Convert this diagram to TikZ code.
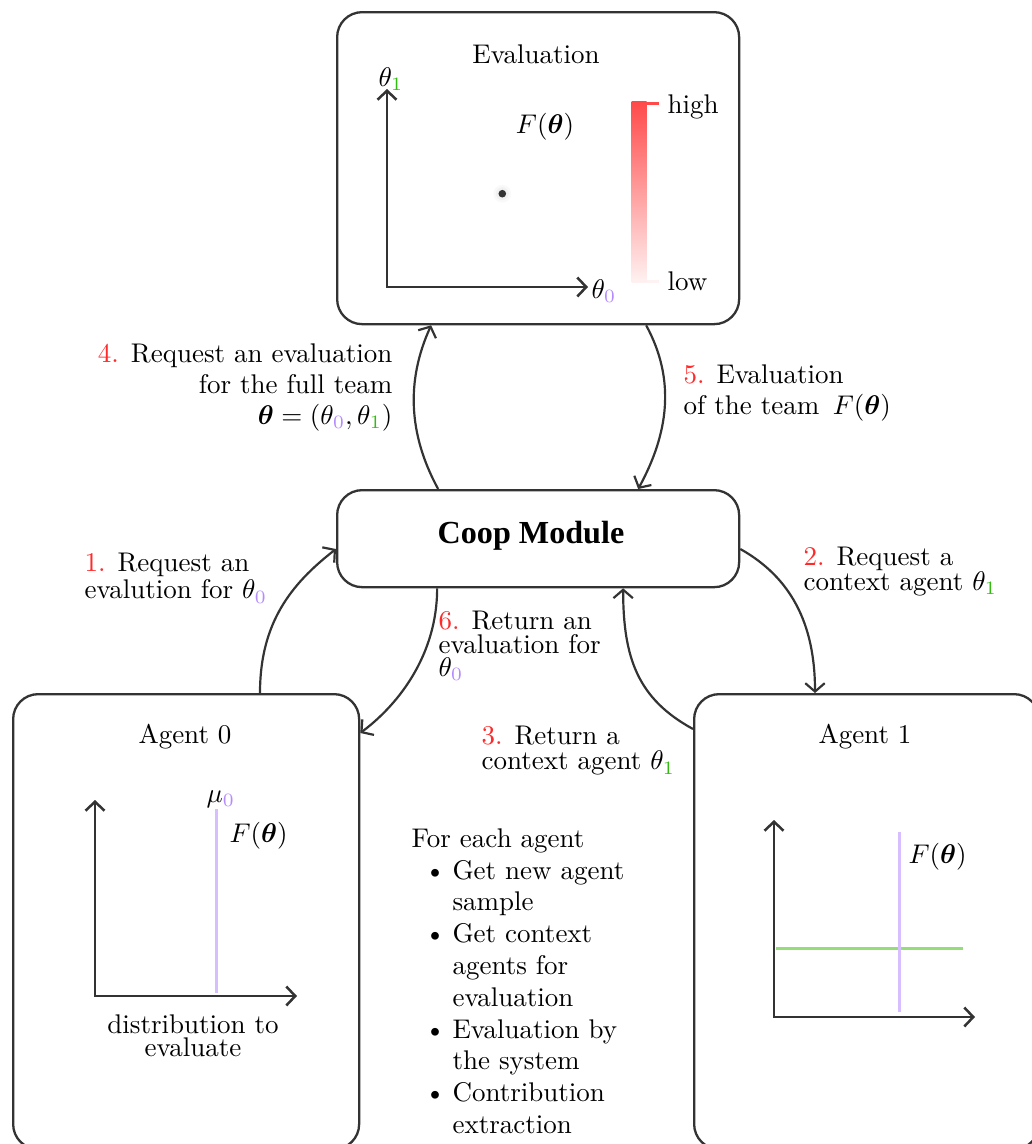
\documentclass[tikz,border=0pt]{standalone}
\usepackage{amsmath}
\usepackage{fontspec}
\newfontfamily\coopfont{Liberation Serif}
\usetikzlibrary{arrows.meta,calc}
\definecolor{lc}{HTML}{333333}
\definecolor{numred}{HTML}{FF2A2A}
\definecolor{subpurple}{HTML}{B48CFF}
\definecolor{subgreen}{HTML}{33BB11}
\definecolor{linepurple}{HTML}{D6BEFF}
\definecolor{linegreen}{HTML}{95DD7A}
\definecolor{barred}{HTML}{FF4A4A}
\definecolor{barlow}{HTML}{FFF2F2}
\newcommand\tzero{\theta_{\textcolor{subpurple}{0}}}
\newcommand\tone{\theta_{\textcolor{subgreen}{1}}}
\newcommand\Fth{F(\boldsymbol{\theta})}
\newcommand\rednum[1]{\textcolor{numred}{#1}}
\newcommand\bitem[1]{\makebox[15.19pt][l]{\hspace{4.81pt}\textbullet}#1}
\newcommand\bcont[1]{\hspace*{15.19pt}#1}
\begin{document}
\begin{tikzpicture}[x=0.37037pt,y=-0.37037pt,
  box/.style={draw=lc, line width=0.85pt, rounded corners=9.26pt, inner sep=0pt},
  conn/.style={draw=lc, line width=0.81pt, -{Straight Barb[length=3.1pt,width=7.2pt]}},
  axis/.style={draw=lc, line width=0.93pt, {Straight Barb[length=3.33pt,width=7.04pt]}-{Straight Barb[length=3.33pt,width=7.04pt]}},
  lbl/.style={inner sep=0pt, text=black, font=\fontsize{10}{#1}\selectfont},
  lbl/.default=11.48,
  plotline/.style={line width=1.11pt}
]
\useasboundingbox (0,0) rectangle (1032,1144);
\fill[white] (0,0) rectangle (1032,1144);

% boxes
\node[box, minimum width=148.89pt, minimum height=115.56pt, anchor=north west] (eval) at (336,11) {};
\node[box, minimum width=148.89pt, minimum height=35.93pt, anchor=north west] (coop) at (336,489) {};
\node[box, minimum width=128.15pt, minimum height=168.52pt, anchor=north west] (a0) at (12,693) {};
\node[box, minimum width=127.78pt, minimum height=168.52pt, anchor=north west] (a1) at (693,693) {};

% Evaluation contents
\node[lbl, anchor=base] (evtitle) at (536,63) {Evaluation};
\draw[axis] (387,89) -- (387,287) -- (588,287);
\node[lbl, anchor=base west] (th1) at (378,86) {$\tone$};
\node[lbl, anchor=base west] (th0) at (591,298) {$\tzero$};
\node[lbl, anchor=base] (evF) at (545,133) {$\Fth$};
\fill[black, opacity=0.025] (502.3,193.7) circle (3.3pt);
\fill[black, opacity=0.03] (502.3,193.7) circle (2.4pt);
\fill[lc] (502.3,193.7) circle (1.41pt);
\shade[top color=barred, bottom color=barlow] (631.7,101.7) rectangle (646.7,282.7);
\fill[barred] (646.7,101.7) rectangle (659,105);
\fill[barlow] (646.7,279.5) rectangle (659,282.7);
\node[lbl, anchor=base west] (hi) at (667,113) {high};
\node[lbl, anchor=base west] (lo) at (667,290) {low};

% Coop module
\node[inner sep=0pt, font=\coopfont\fontsize{11.9}{13}\selectfont\bfseries, anchor=base] (cooplbl) at (531,543) {Coop Module};

% Agent 0 contents
\node[lbl, anchor=base] (a0t) at (185,743) {Agent 0};
\draw[axis] (95,800) -- (95,996) -- (297,996);
\draw[plotline, linepurple] (216.7,809) -- (216.7,993);
\node[lbl, anchor=base west] (mu) at (206,802) {$\mu_{\textcolor{subpurple}{0}}$};
\node[lbl, anchor=base west] (a0F) at (229,842) {$\Fth$};
\node[lbl=8.70, anchor=north, align=center] (dist) at (193,1014) {distribution to\\evaluate};

% Agent 1 contents
\node[lbl, anchor=base] (a1t) at (865,743) {Agent 1};
\draw[axis] (774,820) -- (774,1017) -- (975,1017);
\draw[plotline, linegreen] (776,948) -- (963,948);
\draw[plotline, linepurple] (899.3,832) -- (899.3,1012);
\node[lbl, anchor=base west] (a1F) at (908,863) {$\Fth$};

% connectors
\draw[conn] ($(a0.north west)+(248,0)$) .. controls +(0,-70) and +(-45,35) .. ($(coop.north west)+(0,60)$);
\draw[conn] ($(coop.north east)+(0,60)$) .. controls +(50,28) and +(0,-70) .. ($(a1.north west)+(122,0)$);
\draw[conn] ($(a1.north west)+(0,36)$) .. controls +(-55,-30) and +(0,70) .. ($(coop.south)+(85,0)$);
\draw[conn] ($(coop.north)+(-100,0)$) .. controls +(-30,-55) and +(-25,55) .. ($(eval.south)+(-107,0)$);
\draw[conn] ($(eval.south)+(108,0)$) .. controls +(30,55) and +(30,-55) .. ($(coop.north)+(100,0)$);
\draw[conn] ($(coop.south)+(-101,0)$) .. controls +(0,65) and +(40,-30) .. ($(a0.north east)+(0,40)$);

% connector labels
\node[lbl=11.48, anchor=north east, align=right] (l4) at (393,343) {\rednum{4.} Request an evaluation\\for the full team\\$\boldsymbol{\theta}=(\tzero,\tone)$};
\node[lbl=11.48, anchor=north west, align=left] (l5) at (683,364) {\rednum{5.} Evaluation\\of the team\enspace$\Fth$};
\node[lbl=8.89, anchor=north west, align=left] (l1) at (84,553) {\rednum{1.} Request an\\evalution for $\tzero$};
\node[lbl=9.15, anchor=north west, align=left] (l2) at (803,547) {\rednum{2.} Request a\\context agent $\tone$};
\node[lbl=8.63, anchor=north west, align=left] (l6) at (438,611) {\rednum{6.} Return an\\evaluation for\\$\tzero$};
\node[lbl=9.26, anchor=north west, align=left] (l3) at (481,726) {\rednum{3.} Return a\\context agent $\tone$};

% list
\node[lbl=11.78, anchor=north west, align=left] (steps) at (411,828) {For each agent\\
\bitem{Get new agent}\\
\bcont{sample}\\
\bitem{Get context}\\
\bcont{agents for}\\
\bcont{evaluation}\\
\bitem{Evaluation by}\\
\bcont{the system}\\
\bitem{Contribution}\\
\bcont{extraction}};
\end{tikzpicture}
\end{document}
